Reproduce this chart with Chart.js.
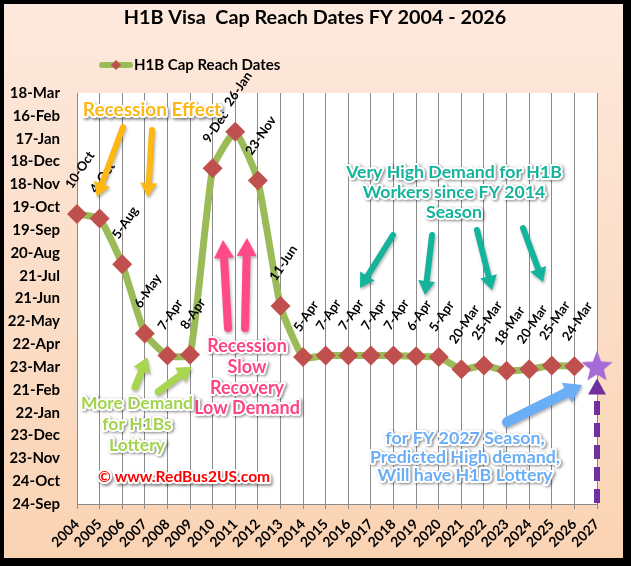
<!DOCTYPE html>
<html><head><meta charset="utf-8">
<script src="https://cdn.jsdelivr.net/npm/chart.js@4/dist/chart.umd.min.js"></script>
<style>html,body{margin:0;padding:0;background:#000;}canvas{display:block;}</style>
</head><body>
<canvas id="c" width="631" height="566"></canvas>
<script>
// ---------- DATA ----------
const years = ['2004','2005','2006','2007','2008','2009','2010','2011','2012','2013','2014','2015','2016','2017','2018','2019','2020','2021','2022','2023','2024','2025','2026','2027'];
// cap reach date as days counted from the axis origin (24-Sep), 30 days per axis step
const capReachDays = [381,375,315,224,195,196,441,489,425,260,193,195,195,195,195,194,193,177,182,175,177,182,181];
const capReachLabels = ['10-Oct','4-Oct','5-Aug','6-May','7-Apr','8-Apr','9-Dec','26-Jan','23-Nov','11-Jun','5-Apr','7-Apr','7-Apr','7-Apr','7-Apr','6-Apr','5-Apr','20-Mar','25-Mar','18-Mar','20-Mar','25-Mar','24-Mar'];
const predictedDays = [null,null,null,null,null,null,null,null,null,null,null,null,null,null,null,null,null,null,null,null,null,null,null,181];
const yTickLabels = ['24-Sep','24-Oct','23-Nov','23-Dec','22-Jan','21-Feb','23-Mar','22-Apr','22-May','21-Jun','21-Jul','20-Aug','19-Sep','19-Oct','18-Nov','18-Dec','17-Jan','16-Feb','18-Mar'];
const yStep = 30;
const titleText = 'H1B Visa  Cap Reach Dates FY 2004 - 2026';
const seriesName = 'H1B Cap Reach Dates';

// annotation texts (positions in data units: i = category index, d = days)
const noteTexts = [
  {lines:['Recession Effect'], color:'#FDB813', size:19, i:3.317, d:[517.7]},
  {lines:['Recession','Slow','Recovery','Low Demand'], color:'#FF4384', size:18, i:7.52, d:[207.6,180.0,152.4,126.1]},
  {lines:['More Demand','for H1Bs','Lottery'], color:'#A2D44C', size:17.5, i:2.654, d:[132.7,105.1,77.5]},
  {lines:['Very High Demand for H1B','Workers since FY 2014','Season'], color:'#14B49C', size:17.7, i:16.675, d:[436.2,409.9,383.7]},
  {lines:['for FY 2027 Season,','Predicted High demand,','Will have H1B Lottery'], color:'#6AAEF5', size:17.8, i:17.161, d:[86.7,61.8,38.1]}
];
const arrowNotes = [
  {from:[2.035,495.3], to:[0.885,403.4], color:'#FDB813', shaft:6, head:17, headLen:14},
  {from:[3.317,491.4], to:[3.140,403.4], color:'#FDB813', shaft:6, head:17, headLen:14},
  {from:[6.679,231.2], to:[6.458,346.9], color:'#FF4A88', shaft:8, head:20, headLen:18},
  {from:[7.431,231.2], to:[7.519,349.5], color:'#FF4A88', shaft:8, head:20, headLen:18},
  {from:[2.565,153.7], to:[3.109,192.7], color:'#A8D64E', shaft:7, head:18, headLen:14},
  {from:[3.596,147.6], to:[5.073,180.4], color:'#A8D64E', shaft:7, head:18, headLen:14},
  {from:[13.977,353.4], to:[12.517,283.8], color:'#14B49C', shaft:6, head:17, headLen:14},
  {from:[15.702,353.4], to:[15.392,274.6], color:'#14B49C', shaft:6, head:17, headLen:14},
  {from:[17.692,360.0], to:[18.355,281.2], color:'#14B49C', shaft:6, head:17, headLen:14},
  {from:[19.727,362.6], to:[20.611,291.7], color:'#14B49C', shaft:6, head:17, headLen:14},
  {from:[19.019,107.7], to:[22.336,156.4], color:'#6AAEF5', shaft:10, head:22, headLen:17}
];
const copyrightText = '\u00A9 www.RedBus2US.com';

// ---------- helpers ----------
const FONT = 'Lato, "Open Sans", sans-serif';
const starImg = (() => {
  const c = document.createElement('canvas'); c.width = 36; c.height = 36;
  const g = c.getContext('2d');
  g.beginPath();
  for (let k = 0; k < 10; k++) {
    const r = k % 2 === 0 ? 16.5 : 7.2;
    const a = -Math.PI / 2 + k * Math.PI / 5;
    g.lineTo(18 + r * Math.cos(a), 19 + r * Math.sin(a));
  }
  g.closePath(); g.fillStyle = '#A66BD6'; g.fill();
  return c;
})();

function fancyText(ctx, text, x, y, color, size, align) {
  ctx.save();
  ctx.font = 'bold ' + size + 'px ' + FONT;
  ctx.textAlign = align || 'center';
  ctx.textBaseline = 'middle';
  ctx.lineJoin = 'round';
  ctx.shadowColor = 'rgba(0,0,0,0.45)';
  ctx.shadowBlur = 3; ctx.shadowOffsetX = 1.5; ctx.shadowOffsetY = 1.5;
  ctx.strokeStyle = '#fff'; ctx.lineWidth = 4;
  ctx.strokeText(text, x, y);
  ctx.shadowColor = 'transparent';
  ctx.fillStyle = color;
  ctx.fillText(text, x, y);
  ctx.restore();
}

function blockArrow(ctx, x1, y1, x2, y2, shaft, head, headLen, color) {
  const ang = Math.atan2(y2 - y1, x2 - x1);
  const len = Math.hypot(x2 - x1, y2 - y1);
  ctx.save();
  ctx.translate(x1, y1); ctx.rotate(ang);
  ctx.beginPath();
  ctx.arc(0, 0, shaft / 2, Math.PI / 2, Math.PI * 1.5);
  ctx.lineTo(len - headLen, -shaft / 2);
  ctx.lineTo(len - headLen, -head / 2);
  ctx.lineTo(len, 0);
  ctx.lineTo(len - headLen, head / 2);
  ctx.lineTo(len - headLen, shaft / 2);
  ctx.closePath();
  ctx.shadowColor = 'rgba(0,0,0,0.3)'; ctx.shadowBlur = 3; ctx.shadowOffsetX = 1; ctx.shadowOffsetY = 2;
  ctx.fillStyle = color; ctx.fill();
  ctx.restore();
}

const framePlugin = {
  id: 'frame',
  beforeDraw(chart) {
    const {ctx, width, height, chartArea: a} = chart;
    ctx.save();
    ctx.fillStyle = '#000'; ctx.fillRect(0, 0, width, height);
    const g = ctx.createLinearGradient(0, 4, 0, 558);
    g.addColorStop(0, '#FDE9DD'); g.addColorStop(1, '#FAD3B3');
    ctx.fillStyle = g; ctx.fillRect(4, 4, 619, 554);
    ctx.fillStyle = '#fff'; ctx.fillRect(a.left, a.top, a.right - a.left, a.bottom - a.top);
    ctx.restore();
  },
  afterDraw(chart) {
    const ctx = chart.ctx;
    ctx.save();
    // title
    ctx.fillStyle = '#000'; ctx.font = 'bold 19.8px ' + FONT; ctx.textBaseline = 'middle'; ctx.textAlign = 'center';
    ctx.fillText(titleText, 315, 18);
    // legend
    ctx.strokeStyle = '#9BBB59'; ctx.lineWidth = 6; ctx.lineCap = 'round';
    ctx.beginPath(); ctx.moveTo(102, 65); ctx.lineTo(130, 65); ctx.stroke();
    ctx.fillStyle = '#C0504D';
    ctx.beginPath(); ctx.moveTo(116, 60); ctx.lineTo(121, 65); ctx.lineTo(116, 70); ctx.lineTo(111, 65); ctx.closePath(); ctx.fill();
    ctx.fillStyle = '#000'; ctx.font = 'bold 15px ' + FONT; ctx.textAlign = 'left';
    ctx.fillText(seriesName, 134, 65);
    ctx.restore();
  }
};

const labelPlugin = {
  id: 'pointLabels',
  afterDatasetsDraw(chart) {
    const ctx = chart.ctx;
    const meta = chart.getDatasetMeta(0);
    const ang = -56 * Math.PI / 180;
    ctx.save();
    ctx.font = 'bold 13px ' + FONT;
    ctx.fillStyle = '#000'; ctx.textAlign = 'center'; ctx.textBaseline = 'middle';
    meta.data.forEach((pt, k) => {
      const t = capReachLabels[k];
      const w = ctx.measureText(t).width;
      const cx = pt.x + 3, cy = pt.y - 27 - 0.41 * w;
      ctx.save(); ctx.translate(cx, cy); ctx.rotate(ang); ctx.fillText(t, 0, 0); ctx.restore();
    });
    ctx.restore();

    const xs = chart.scales.x, ys = chart.scales.y;
    const P = (i, d) => [xs.getPixelForValue(i), ys.getPixelForValue(d)];
    // purple dashed arrow to the 2027 star
    const last = years.length - 1;
    const [px, pb] = P(last, 0);
    const [, pt] = P(last, predictedDays[last] - 16);
    ctx.save();
    ctx.strokeStyle = '#7030A0'; ctx.lineWidth = 6; ctx.setLineDash([14, 8]);
    ctx.beginPath(); ctx.moveTo(px, pb - 1); ctx.lineTo(px, pt + 15); ctx.stroke();
    ctx.setLineDash([]); ctx.fillStyle = '#7030A0';
    ctx.beginPath(); ctx.moveTo(px, pt); ctx.lineTo(px + 9, pt + 16); ctx.lineTo(px - 9, pt + 16); ctx.closePath(); ctx.fill();
    ctx.restore();

    arrowNotes.forEach(a => {
      const [x1, y1] = P(a.from[0], a.from[1]);
      const [x2, y2] = P(a.to[0], a.to[1]);
      blockArrow(ctx, x1, y1, x2, y2, a.shaft, a.head, a.headLen, a.color);
    });
    noteTexts.forEach(n => {
      n.lines.forEach((ln, k) => {
        const [x, y] = P(n.i, n.d[k]);
        fancyText(ctx, ln, x, y, n.color, n.size, 'center');
      });
    });
    const [cx0, cy0] = P(0.929, 35.5);
    fancyText(ctx, copyrightText, cx0, cy0, '#FF0000', 15.6, 'left');
  }
};

function build() {
  Chart.defaults.font.family = FONT;
  new Chart(document.getElementById('c'), {
    type: 'line',
    data: {
      labels: years,
      datasets: [
        {
          label: seriesName, data: capReachDays,
          borderColor: '#9BBB59', borderWidth: 7, tension: 0.15,
          pointStyle: 'rectRot', pointRadius: 10, pointBackgroundColor: '#C0504D',
          pointBorderWidth: 0, clip: false
        },
        {
          label: 'Predicted', data: predictedDays, showLine: false,
          pointStyle: starImg, pointRadius: 16, clip: false
        }
      ]
    },
    options: {
      responsive: false, animation: false, events: [],
      layout: {padding: {left: 0, right: 34, top: 93, bottom: 0}},
      plugins: {
        legend: {display: false}, tooltip: {enabled: false}, title: {display: false}
      },
      scales: {
        x: {
          offset: false,
          grid: {display: true, color: '#8A8A8A', lineWidth: 1, drawTicks: true, tickLength: 5},
          border: {display: true, color: '#8A8A8A'},
          ticks: {color: '#000', font: {size: 14, weight: 'bold'}, maxRotation: 45, minRotation: 45, autoSkip: false, padding: 7},
          afterFit: s => { s.height = 62; }
        },
        y: {
          min: 0, max: yStep * (yTickLabels.length - 1),
          grid: {display: false, drawTicks: false},
          border: {display: true, color: '#8A8A8A'},
          ticks: {stepSize: yStep, autoSkip: false, color: '#000', font: {size: 15, weight: 'bold'}, padding: 17,
                  callback: v => yTickLabels[Math.round(v / yStep)]},
          afterFit: s => { s.width = 77; }
        }
      }
    },
    plugins: [framePlugin, labelPlugin]
  });
}
if (document.fonts && document.fonts.load) {
  Promise.all([document.fonts.load('bold 14px Lato'), document.fonts.load('14px Lato')]).then(build, build);
} else build();
</script>
</body></html>
